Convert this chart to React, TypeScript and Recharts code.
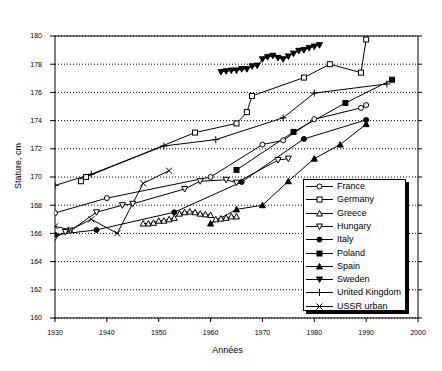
import { LineChart, Line, XAxis, YAxis, CartesianGrid, Legend, Label } from 'recharts';

const yearTicks = [1930, 1940, 1950, 1960, 1970, 1980, 1990, 2000];
const statureTicks = [160, 162, 164, 166, 168, 170, 172, 174, 176, 178, 180];

// [year, stature cm]
const france = [[1930, 167.45], [1940, 168.5], [1960, 170.0], [1970, 172.3], [1974, 172.6], [1980, 174.1], [1989, 174.9], [1990, 175.1]];
const germany = [[1935, 169.7], [1936, 170.0], [1957, 173.15], [1965, 173.8], [1967, 174.6], [1968, 175.75], [1978, 177.05], [1983, 178.0], [1989, 177.4], [1990, 179.75]];
const greece = [[1947, 166.7], [1948, 166.7], [1949, 166.75], [1950, 166.9], [1951, 166.9], [1952, 167.0], [1953, 167.1], [1954, 167.4], [1955, 167.5], [1956, 167.55], [1957, 167.5], [1958, 167.4], [1959, 167.35], [1960, 167.3], [1961, 167.0], [1962, 167.05], [1963, 167.1], [1964, 167.2], [1965, 167.2]];
const hungary = [[1930, 165.7], [1932, 166.1], [1933, 166.2], [1938, 167.5], [1943, 168.0], [1945, 168.1], [1955, 169.15], [1958, 169.7], [1963, 169.8], [1965, 169.6], [1973, 171.2], [1975, 171.3]];
const italy = [[1930, 165.9], [1938, 166.25], [1953, 167.5], [1966, 169.65], [1978, 172.7], [1990, 174.05]];
const poland = [[1965, 170.5], [1976, 173.2], [1986, 175.25], [1995, 176.9]];
const spain = [[1960, 166.7], [1965, 167.7], [1970, 168.0], [1975, 169.7], [1980, 171.3], [1985, 172.3], [1990, 173.75]];
const sweden = [[1962, 177.45], [1963, 177.5], [1964, 177.55], [1965, 177.55], [1966, 177.65], [1967, 177.65], [1968, 177.85], [1969, 177.9], [1970, 178.35], [1971, 178.5], [1972, 178.6], [1973, 178.45], [1974, 178.35], [1975, 178.55], [1976, 178.75], [1977, 178.95], [1978, 179.0], [1979, 179.15], [1980, 179.25], [1981, 179.35]];
const unitedKingdom = [[1930, 169.4], [1937, 170.2], [1951, 172.2], [1961, 172.65], [1974, 174.2], [1980, 175.95], [1994, 176.6]];
const ussrUrban = [[1930, 166.5], [1933, 166.25], [1937, 167.0], [1942, 166.0], [1947, 169.55], [1952, 170.45]];

const series = [
  { name: 'France', points: france, shape: 'circle', filled: false },
  { name: 'Germany', points: germany, shape: 'square', filled: false },
  { name: 'Greece', points: greece, shape: 'triangle', filled: false },
  { name: 'Hungary', points: hungary, shape: 'invTriangle', filled: false },
  { name: 'Italy', points: italy, shape: 'circle', filled: true },
  { name: 'Poland', points: poland, shape: 'square', filled: true },
  { name: 'Spain', points: spain, shape: 'triangle', filled: true },
  { name: 'Sweden', points: sweden, shape: 'invTriangle', filled: true },
  { name: 'United Kingdom', points: unitedKingdom, shape: 'plus', filled: false },
  { name: 'USSR urban', points: ussrUrban, shape: 'cross', filled: false },
];

const FONT = '"Liberation Sans", Arial, sans-serif';

function Marker({ cx, cy, shape, filled }: { cx: number; cy: number; shape: string; filled: boolean }) {
  if (cx == null || cy == null) return null;
  const fill = filled ? '#000' : '#fff';
  switch (shape) {
    case 'circle':
      return <circle cx={cx} cy={cy} r={2.5} fill={fill} stroke="#000" strokeWidth={1} />;
    case 'square':
      return <rect x={cx - 2.5} y={cy - 2.5} width={5} height={5} fill={fill} stroke="#000" strokeWidth={1} />;
    case 'triangle':
      return <polygon points={`${cx},${cy - 3} ${cx + 3},${cy + 2.5} ${cx - 3},${cy + 2.5}`} fill={fill} stroke="#000" strokeWidth={1} />;
    case 'invTriangle':
      return <polygon points={`${cx - 3},${cy - 2.5} ${cx + 3},${cy - 2.5} ${cx},${cy + 3}`} fill={fill} stroke="#000" strokeWidth={1} />;
    case 'plus':
      return <path d={`M${cx - 3.5},${cy} H${cx + 3.5} M${cx},${cy - 3.5} V${cy + 3.5}`} stroke="#000" strokeWidth={1} fill="none" />;
    case 'cross':
      return <path d={`M${cx - 3},${cy - 3} L${cx + 3},${cy + 3} M${cx + 3},${cy - 3} L${cx - 3},${cy + 3}`} stroke="#000" strokeWidth={1} fill="none" />;
    default:
      return null;
  }
}

const noTick = () => <g />;

function LegendBox() {
  return (
    <div
      style={{
        background: '#fff',
        border: '1px solid #000',
        boxShadow: '3px 3px 0 #000',
        width: 101,
        height: 130,
        padding: '0',
        boxSizing: 'content-box',
        fontFamily: FONT,
        fontSize: 9,
        color: '#000',
      }}
    >
      {series.map((s, i) => (
        <div key={s.name} style={{ position: 'absolute', left: 0, top: 1 + i * 13.3, height: 13, display: 'flex', alignItems: 'center' }}>
          <svg width={34} height={13} style={{ display: 'block' }}>
            <line x1={3} y1={6.5} x2={30} y2={6.5} stroke="#000" strokeWidth={1} />
            <Marker cx={16.5} cy={6.5} shape={s.shape} filled={s.filled} />
          </svg>
          <span style={{ whiteSpace: 'nowrap', lineHeight: '13px' }}>{s.name}</span>
        </div>
      ))}
    </div>
  );
}

export default function App() {
  return (
    <div style={{ position: 'absolute', left: 0, top: 0, background: '#fff' }}>
      <LineChart width={442} height={371} margin={{ top: 26, right: 14, bottom: 23, left: 15 }} style={{ fontFamily: FONT }}>
        <CartesianGrid vertical={false} stroke="#000" strokeDasharray="1 2" />
        <XAxis
          dataKey="x"
          type="number"
          domain={[1930, 2000]}
          ticks={yearTicks}
          height={30}
          stroke="#000"
          tickSize={4}
          tickMargin={8}
          tick={{ fill: '#000', fontSize: 7 }}
          allowDataOverflow
        >
          <Label
            content={(p: any) => {
              const vb = p.viewBox;
              return (
                <text x={vb.x + vb.width / 2 - 9} y={vb.y + vb.height + 5} textAnchor="middle" fontSize={9} fontFamily={FONT} fill="#000">
                  Années
                </text>
              );
            }}
          />
        </XAxis>
        <XAxis xAxisId="t" orientation="top" type="number" domain={[1930, 2000]} ticks={yearTicks} height={10} stroke="#000" tickSize={4} tick={noTick} allowDataOverflow />
        <YAxis
          type="number"
          domain={[160, 180]}
          ticks={statureTicks}
          width={40}
          stroke="#000"
          tickSize={5}
          tickMargin={8}
          tick={{ fill: '#000', fontSize: 7 }}
          allowDataOverflow
        >
          <Label
            content={(p: any) => {
              const vb = p.viewBox;
              const cx = vb.x + 3;
              const cy = vb.y + vb.height / 2 - 11;
              return (
                <text x={cx} y={cy} transform={`rotate(-90 ${cx} ${cy})`} textAnchor="middle" dominantBaseline="central" fontSize={9} fontFamily={FONT} fill="#000">
                  Stature, cm
                </text>
              );
            }}
          />
        </YAxis>
        <YAxis yAxisId="r" orientation="right" type="number" domain={[160, 180]} ticks={statureTicks} width={10} stroke="#000" tickSize={4} tick={noTick} allowDataOverflow />
        <Legend
          layout="vertical"
          align="center"
          verticalAlign="middle"
          content={() => <LegendBox />}
          wrapperStyle={{ left: 303, top: 179, width: 103, height: 132, right: 'auto', bottom: 'auto' }}
        />
        {series.map((s) => (
          <Line
            key={s.name}
            name={s.name}
            data={s.points.map(([x, y]) => ({ x, y }))}
            dataKey="y"
            stroke="#000"
            strokeWidth={1}
            isAnimationActive={false}
            activeDot={false}
            dot={(p: any) => <Marker key={`${s.name}-${p.index}`} cx={p.cx} cy={p.cy} shape={s.shape} filled={s.filled} />}
          />
        ))}
      </LineChart>
    </div>
  );
}
